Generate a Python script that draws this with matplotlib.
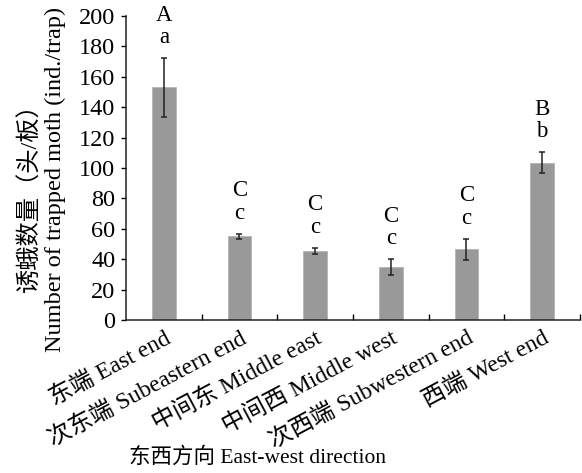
import numpy as np
import matplotlib
matplotlib.use('Agg')
import matplotlib.pyplot as plt
from matplotlib.ticker import MultipleLocator, FixedLocator

plt.rcParams['font.family'] = ['Liberation Serif', 'Noto Sans CJK SC']
plt.rcParams['axes.unicode_minus'] = False

# 各位置诱蛾数量（均值 ± 标准误）
sites = ['东端 East end', '次东端 Subeastern end', '中间东 Middle east',
         '中间西 Middle west', '次西端 Subwestern end', '西端 West end']
means = [153, 55.2, 45.5, 35, 46.5, 103.5]
errs = [19.5, 1.6, 2.0, 5.2, 7.0, 7.0]
upper_letters = ['A', 'C', 'C', 'C', 'C', 'B']
lower_letters = ['a', 'c', 'c', 'c', 'c', 'b']

fig = plt.figure(figsize=(5.82, 4.73), dpi=100)
ax = fig.add_axes([0.2165, 0.3235, 0.78, 0.6425])

x = np.arange(len(sites))
ax.bar(x, means, width=0.31, color='#999999', edgecolor='#b4b4b4', linewidth=0.6)
ax.errorbar(x, means, yerr=errs, fmt='none', ecolor='#222222',
            elinewidth=1.1, capsize=2.5, capthick=1.1)

# 显著性字母
for i in range(len(sites)):
    ax.annotate(upper_letters[i] + '\n' + lower_letters[i],
                xy=(x[i], means[i] + errs[i]), xytext=(0, 7),
                textcoords='offset points', ha='center', va='bottom',
                fontsize=16.5, linespacing=1.1)

ax.set_xlim(-0.5, len(sites) - 0.5)
ax.set_ylim(0, 200)
ax.yaxis.set_major_locator(MultipleLocator(20))
ax.tick_params(axis='y', direction='out', length=3.6, width=1, labelsize=17.5, pad=4)

ax.set_xticks(x)
ax.set_xticklabels(sites, rotation=28, ha='right', rotation_mode='anchor', fontsize=17)
ax.tick_params(axis='x', which='major', length=0, pad=5)
ax.xaxis.set_minor_locator(FixedLocator(np.arange(0.5, len(sites), 1.0)))
ax.tick_params(axis='x', which='minor', direction='in', length=4, width=1)

for s in ['top', 'right']:
    ax.spines[s].set_visible(False)
for s in ['left', 'bottom']:
    ax.spines[s].set_linewidth(1.1)
    ax.spines[s].set_color('#222222')

# 纵轴标题分两行写
fig.text(0.051, 0.594, '诱蛾数量（头/板）', rotation=90, ha='center', va='center', fontsize=17.5)
fig.text(0.0945, 0.6216, 'Number of trapped moth (ind./trap)', rotation=90,
         ha='center', va='center', fontsize=17.5)

fig.text(0.443, 0.032, '东西方向 East-west direction', ha='center', va='center', fontsize=15.5)

fig.savefig('out.png', dpi=100)
